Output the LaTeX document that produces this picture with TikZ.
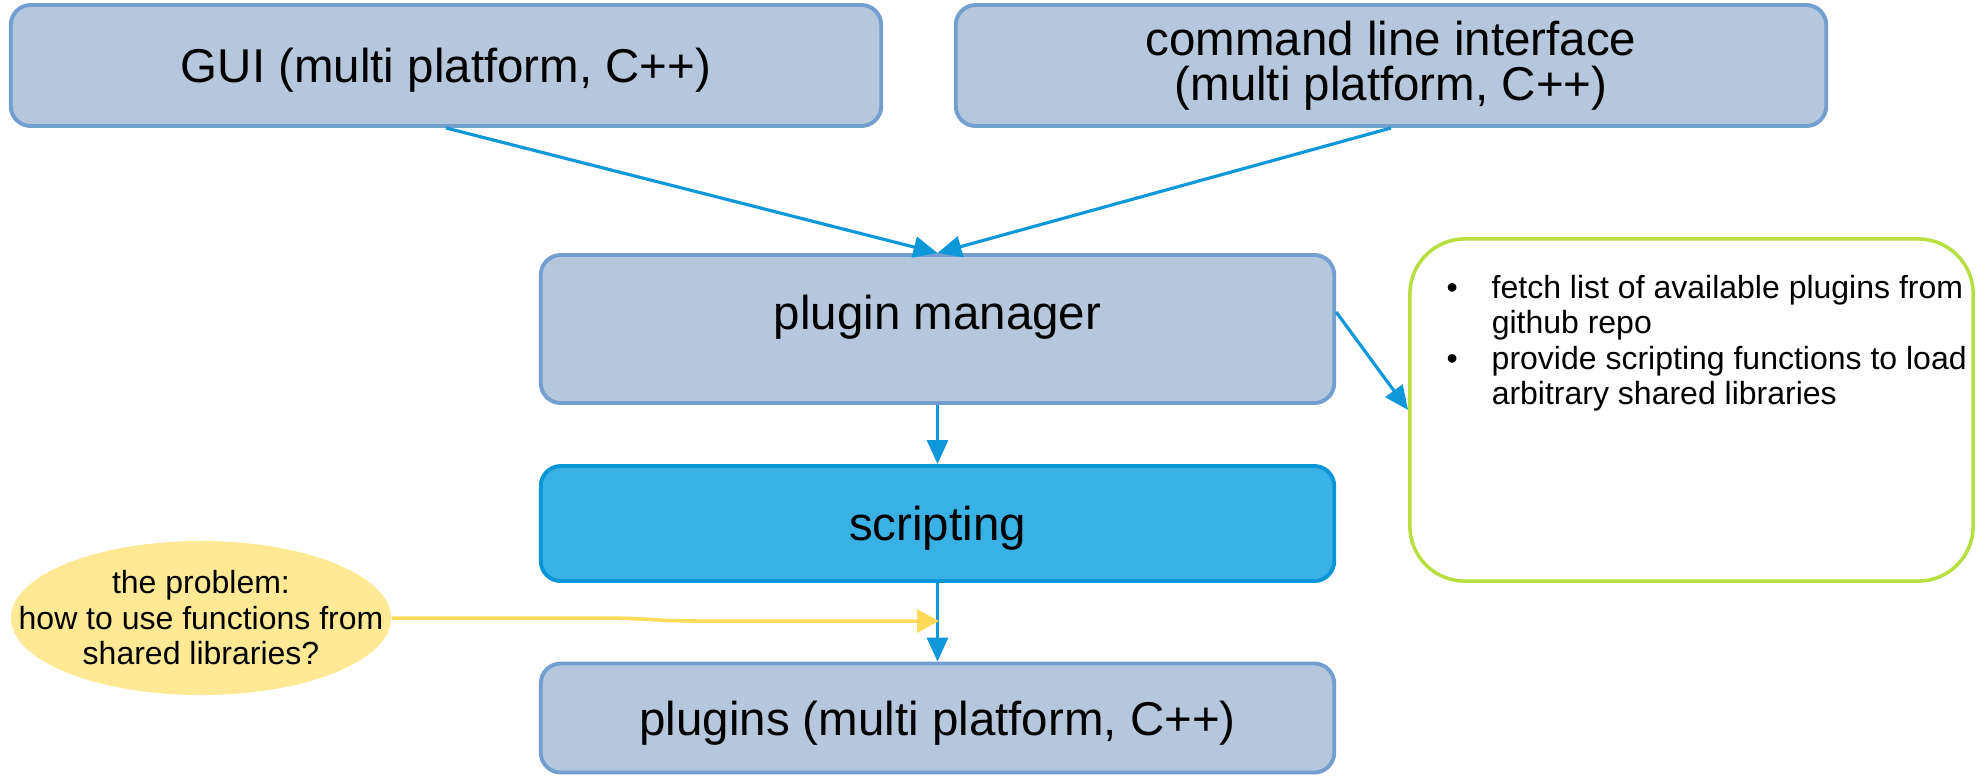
\documentclass[tikz,border=0pt]{standalone}
\usepackage{fontspec}
\setmainfont{Liberation Sans}
\usetikzlibrary{shapes.geometric,arrows.meta,calc}

\definecolor{boxfill}{HTML}{B4C7DC}
\definecolor{boxline}{HTML}{729FCF}
\definecolor{scrfill}{HTML}{3AB1E4}
\definecolor{scrline}{HTML}{0A95D6}
\definecolor{arrowblue}{HTML}{0E97D9}
\definecolor{notegreen}{HTML}{B8DF3F}
\definecolor{probfill}{HTML}{FFE994}
\definecolor{probline}{HTML}{FFDB58}

\tikzset{
  bigtext/.style={font=\fontsize{13.5}{12.8}\selectfont},
  smalltext/.style={font=\fontsize{9.1}{10.1}\selectfont},
  stagebox/.style={draw=boxline, fill=boxfill, line width=1.1pt,
    rounded corners=0.2cm, inner sep=0pt, bigtext, align=center},
  oneline/.style={text height=0.42cm, text depth=0.08cm},
  activebox/.style={stagebox, draw=scrline, fill=scrfill},
  notebox/.style={draw=notegreen, line width=1.0pt, rounded corners=0.55cm,
    inner sep=0pt},
  problem/.style={ellipse, fill=probfill, draw=none, inner sep=0pt},
  flow/.style={draw=arrowblue, line width=0.9pt,
    -{Triangle[length=0.24cm,width=0.21cm]}},
  hint/.style={draw=probline, line width=1.0pt,
    -{Triangle[length=0.22cm,width=0.23cm]}},
}

\begin{document}
\begin{tikzpicture}[x=0.01cm, y=-0.01cm]
  \useasboundingbox (0,0) rectangle (1976,775);

  % top layer: front ends
  \node[stagebox, oneline, minimum width=8.70cm, minimum height=1.21cm] (gui) at (446,65.5)
    {GUI (multi platform, C++)};
  \node[stagebox, minimum width=8.70cm, minimum height=1.21cm] (cli) at (1391,65.5)
    {command line interface\\(multi platform, C++)};

  % core stack
  \node[stagebox, minimum width=7.93cm, minimum height=1.48cm,
        text height=0.35cm, text depth=0.35cm] (pm) at (937.5,329)
    {plugin manager};
  \node[activebox, oneline, minimum width=7.93cm, minimum height=1.15cm] (scr) at (937.5,523.5)
    {scripting};
  \node[stagebox, oneline, minimum width=7.93cm, minimum height=1.09cm] (plg) at (937.5,718)
    {plugins (multi platform, C++)};

  % note box with the plugin manager duties
  \node[notebox, minimum width=5.63cm, minimum height=3.42cm] (note) at (1691.5,410) {};
  \node[smalltext, anchor=base west, inner sep=0pt] (duties) at (1446,298)
    {\begin{tabular}[t]{@{}p{0.45cm}@{}l@{}}
      • & fetch list of available plugins from\\
        & github repo\\
      • & provide scripting functions to load\\
        & arbitrary shared libraries
     \end{tabular}};

  % the open question
  \node[problem, minimum width=3.80cm, minimum height=1.54cm,
        label={[smalltext, align=center, inner sep=0pt]center:the problem:\\how to use functions from\\shared libraries?}]
    (prob) at (201,618) {};

  % connectors
  \draw[flow] (gui.south) -- (pm.north);
  \draw[flow] (cli.south) -- (pm.north);
  \draw[flow] ($(pm.east)+(0,-17)$) -- (note.west);
  \draw[flow] (pm.south) -- (scr.north);
  \draw[flow] (scr.south) -- (plg.north);

  \coordinate (gap) at (939,621);
  \draw[hint] (prob.east) -- (600,618) .. controls (650,618) and (650,621) .. (700,621) -- (gap);
\end{tikzpicture}
\end{document}
